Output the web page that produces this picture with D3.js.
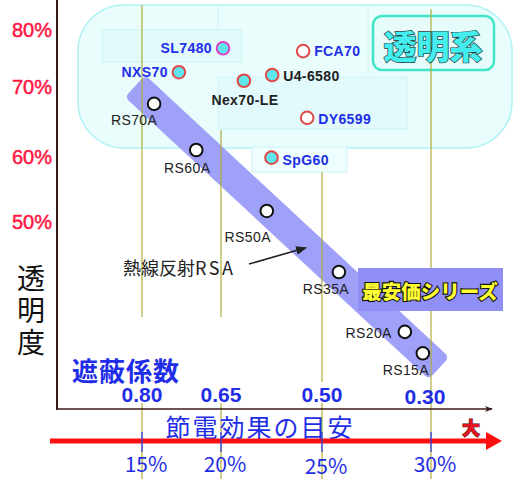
<!DOCTYPE html>
<html><head><meta charset="utf-8">
<script src="https://cdn.jsdelivr.net/npm/d3@7"></script>
<style>body{margin:0;background:#fff}svg{display:block}</style>
</head><body><svg id="c" width="513" height="479"></svg>
<script>
// ---- data ----
const yTicks = [80, 70, 60, 50];
const yTickLabels = ["80%", "70%", "60%", "50%"];
const scTicks = [0.80, 0.65, 0.50, 0.30];
const scTickLabels = ["0.80", "0.65", "0.50", "0.30"];
const savingLabels = ["15%", "20%", "25%", "30%"];

const clearNames = ["SL7480", "NXS70", "Nex70-LE", "U4-6580", "FCA70", "DY6599", "SpG60"];
const clearSC = [0.647, 0.73, 0.616, 0.574, 0.528, 0.522, 0.575];
const clearVT = [76.8, 72.6, 71.1, 72.1, 76.3, 65.6, 59.9];

const rsNames = ["RS70A", "RS60A", "RS50A", "RS35A", "RS20A", "RS15A"];
const rsSC = [0.777, 0.697, 0.582, 0.469, 0.348, 0.315];
const rsVT = [67.6, 61.0, 51.7, 42.3, 33.1, 29.8];

// ---- layout / style ----
const FONT_L = "'Liberation Sans', Arial, sans-serif";
const FONT_J = "'Noto Sans CJK JP', sans-serif";
const BLUE = "#1f2ee6", RED = "#ff1744", CYAN = "#5fe6ea", OLIVE = "#b0ae3a";

const markStyle = {
  "SL7480":   {fill: CYAN, stroke: "#e040c8", color: BLUE, bold: true, dx: -11, dy: 0, anchor: "end"},
  "NXS70":    {fill: CYAN, stroke: "#e04848", color: BLUE, bold: true, dx: -11, dy: 0, anchor: "end"},
  "Nex70-LE": {fill: CYAN, stroke: "#e04848", color: "#222", bold: true, dx: 1, dy: 19, anchor: "middle"},
  "U4-6580":  {fill: CYAN, stroke: "#e04848", color: "#222", bold: true, dx: 11, dy: 1, anchor: "start"},
  "FCA70":    {fill: "#fff", stroke: "#e04848", color: BLUE, bold: true, dx: 11, dy: 0, anchor: "start"},
  "DY6599":   {fill: "#fff", stroke: "#e04848", color: BLUE, bold: true, dx: 11, dy: 1, anchor: "start"},
  "SpG60":    {fill: CYAN, stroke: "#e04848", color: BLUE, bold: true, dx: 11, dy: 2, anchor: "start"},
  "RS70A":    {fill: "#fff", stroke: "#111", color: "#222", bold: false, dx: -20, dy: 16, anchor: "middle"},
  "RS60A":    {fill: "#fff", stroke: "#111", color: "#222", bold: false, dx: -9, dy: 18, anchor: "middle"},
  "RS50A":    {fill: "#fff", stroke: "#111", color: "#222", bold: false, dx: -19, dy: 26, anchor: "middle"},
  "RS35A":    {fill: "#fff", stroke: "#111", color: "#222", bold: false, dx: -13, dy: 17, anchor: "middle"},
  "RS20A":    {fill: "#fff", stroke: "#111", color: "#222", bold: false, dx: -13, dy: 1, anchor: "end"},
  "RS15A":    {fill: "#fff", stroke: "#111", color: "#222", bold: false, dx: -17, dy: 17, anchor: "middle"}
};
const gridSegments = [[5, 317, 403, 479], [130, 317, 403, 479], [172, 382, 403, 479], [9, 479, 479, 479]];

const x = d3.scaleLinear().domain(scTicks).range([142, 221, 322, 431]);
const y = d3.scaleLinear().domain(yTicks).range([30, 87, 157, 222]);

const svg = d3.select("#c");

// arrow markers
const defs = svg.append("defs");
defs.append("marker").attr("id", "ah").attr("viewBox", "0 0 10 10").attr("refX", 8).attr("refY", 5)
  .attr("markerWidth", 7).attr("markerHeight", 7).attr("orient", "auto")
  .append("path").attr("d", "M0,1 L10,5 L0,9 Z").attr("fill", "#222");
defs.append("marker").attr("id", "ax").attr("viewBox", "0 0 10 10").attr("refX", 9).attr("refY", 5)
  .attr("markerWidth", 5).attr("markerHeight", 5).attr("orient", "auto")
  .append("path").attr("d", "M0,1 L10,5 L0,9 L3,5 Z").attr("fill", "#3a1a1a");

// transparent-series region
svg.append("rect").attr("x", 78).attr("y", 5).attr("width", 434).attr("height", 143).attr("rx", 46)
  .attr("fill", "#e9fdfd").attr("stroke", "#aef2f4").attr("stroke-width", 1.5);
const faint = svg.append("g").attr("fill", "#e2fafb").attr("stroke", "#cdf4f6").attr("stroke-width", 1);
faint.append("rect").attr("x", 102).attr("y", 30).attr("width", 139).attr("height", 32);
faint.append("rect").attr("x", 218).attr("y", 77).attr("width", 189).attr("height", 52);
faint.append("rect").attr("x", 252).attr("y", 147).attr("width", 95).attr("height", 25).attr("fill", "#eefdfd");
faint.append("line").attr("x1", 368).attr("x2", 368).attr("y1", 6).attr("y2", 76);
faint.append("line").attr("x1", 218).attr("x2", 218).attr("y1", 6).attr("y2", 30);

// label box 透明系
svg.append("rect").attr("x", 373).attr("y", 16).attr("width", 121).attr("height", 54).attr("rx", 9)
  .attr("fill", "#e6fcfb").attr("stroke", "#3ee6c8").attr("stroke-width", 2.5);

// band (cheapest series)
const p1 = [x(rsSC[0]), y(rsVT[0])], p2 = [x(rsSC[rsSC.length - 1]), y(rsVT[rsVT.length - 1])];
const ang = Math.atan2(p2[1] - p1[1], p2[0] - p1[0]);
const len = Math.hypot(p2[0] - p1[0], p2[1] - p1[1]);
svg.append("rect").attr("x", -26).attr("y", -15).attr("width", len + 48).attr("height", 30).attr("rx", 5)
  .attr("fill", "#9fa0f8")
  .attr("transform", `translate(${p1[0]},${p1[1]}) rotate(${ang * 180 / Math.PI})`);

// vertical guide lines
const grid = svg.append("g").attr("stroke", OLIVE).attr("stroke-width", 1.2);
scTicks.forEach((t, i) => {
  const s = gridSegments[i];
  grid.append("line").attr("x1", x(t)).attr("x2", x(t)).attr("y1", s[0]).attr("y2", s[1]);
  if (s[3] > s[2]) grid.append("line").attr("x1", x(t)).attr("x2", x(t)).attr("y1", s[2]).attr("y2", s[3]);
});

svg.append("text").attr("x", 433).attr("y", 45).attr("text-anchor", "middle").attr("dominant-baseline", "central")
  .attr("font-family", FONT_J).attr("font-weight", 900).attr("font-size", 33)
  .attr("fill", "#45eeee").attr("stroke", "#1e3b3b").attr("stroke-width", 1.4).attr("paint-order", "stroke")
  .text("透明系");

// 最安価シリーズ box
svg.append("rect").attr("x", 358).attr("y", 268).attr("width", 145).attr("height", 43).attr("fill", "#8f8ff5");
svg.append("text").attr("x", 430).attr("y", 290).attr("text-anchor", "middle").attr("dominant-baseline", "central")
  .attr("font-family", FONT_J).attr("font-weight", 900).attr("font-size", 19.5)
  .attr("fill", "#ffff33").attr("stroke", "#111").attr("stroke-width", 2.2).attr("paint-order", "stroke")
  .text("最安価シリーズ");

// axes
svg.append("line").attr("x1", 57).attr("x2", 57).attr("y1", 0).attr("y2", 410)
  .attr("stroke", "#3a1a1a").attr("stroke-width", 2);
svg.append("line").attr("x1", 56).attr("x2", 492).attr("y1", 409).attr("y2", 409)
  .attr("stroke", "#3a1a1a").attr("stroke-width", 1.6).attr("marker-end", "url(#ax)");

// y tick labels
svg.append("g").selectAll("text").data(yTicks).join("text")
  .attr("x", 52).attr("y", d => y(d)).attr("text-anchor", "end").attr("dominant-baseline", "central")
  .attr("font-family", FONT_L).attr("font-size", 20).attr("fill", RED)
  .attr("stroke", RED).attr("stroke-width", 0.5)
  .text((d, i) => yTickLabels[i]);

// y axis title
svg.append("g").selectAll("text").data(["透", "明", "度"]).join("text")
  .attr("x", 31).attr("y", (d, i) => 277 + i * 32).attr("text-anchor", "middle").attr("dominant-baseline", "central")
  .attr("font-family", FONT_J).attr("font-size", 28).attr("fill", "#111").text(d => d);

// shading coefficient title and ticks
svg.append("text").attr("x", 72).attr("y", 369).attr("dominant-baseline", "central")
  .attr("font-family", FONT_J).attr("font-weight", 700).attr("font-size", 26).attr("letter-spacing", 1)
  .attr("fill", BLUE)
  .text("遮蔽係数");
svg.append("g").selectAll("text").data(scTicks).join("text")
  .attr("x", (d, i) => x(d) - (i === 3 ? 6 : 0)).attr("y", (d, i) => i === 3 ? 396 : 394)
  .attr("text-anchor", "middle").attr("dominant-baseline", "central")
  .attr("font-family", FONT_L).attr("font-weight", 700).attr("font-size", 21).attr("fill", BLUE)
  .text((d, i) => scTickLabels[i]);

// power saving arrow
svg.append("text").attr("x", 260).attr("y", 426).attr("text-anchor", "middle").attr("dominant-baseline", "central")
  .attr("font-family", FONT_J).attr("font-size", 25).attr("letter-spacing", 2).attr("fill", BLUE)
  .text("節電効果の目安");
svg.append("line").attr("x1", 50).attr("x2", 488).attr("y1", 441).attr("y2", 441)
  .attr("stroke", "#ff1010").attr("stroke-width", 5);
svg.append("path").attr("d", "M486,432 L502,441 L486,450 Z").attr("fill", "#ff1010");
svg.append("text").attr("x", 471).attr("y", 427).attr("text-anchor", "middle").attr("dominant-baseline", "central")
  .attr("font-family", FONT_J).attr("font-weight", 900).attr("font-size", 18)
  .attr("fill", "#e8141e").attr("stroke", "#4a0a0a").attr("stroke-width", 1).attr("paint-order", "stroke")
  .text("大");
svg.append("g").selectAll("line").data(scTicks).join("line")
  .attr("x1", d => x(d)).attr("x2", d => x(d)).attr("y1", 432).attr("y2", 452)
  .attr("stroke", "#3040e8").attr("stroke-width", 1.3);
svg.append("g").selectAll("text").data(scTicks).join("text")
  .attr("x", d => x(d) + 4).attr("y", (d, i) => i === 2 ? 465 : 463)
  .attr("text-anchor", "middle").attr("dominant-baseline", "central")
  .attr("font-family", FONT_J).attr("font-size", 21).attr("fill", BLUE)
  .text((d, i) => savingLabels[i]);

// annotation 熱線反射RSA
const ann = svg.append("text").attr("x", 123).attr("y", 267).attr("dominant-baseline", "central")
  .attr("font-family", FONT_J).attr("font-size", 18).attr("fill", "#222");
ann.append("tspan").text("熱線反射");
ann.append("tspan").attr("letter-spacing", 2.5).text("RSA");
svg.append("line").attr("x1", 249).attr("y1", 264).attr("x2", 305).attr("y2", 248)
  .attr("stroke", "#222").attr("stroke-width", 1.6).attr("marker-end", "url(#ah)");

// points
const pts = clearNames.map((n, i) => ({name: n, sc: clearSC[i], vt: clearVT[i]}))
  .concat(rsNames.map((n, i) => ({name: n, sc: rsSC[i], vt: rsVT[i]})));
svg.append("g").selectAll("circle").data(pts).join("circle")
  .attr("cx", d => x(d.sc)).attr("cy", d => y(d.vt)).attr("r", 6.3)
  .attr("fill", d => markStyle[d.name].fill).attr("stroke", d => markStyle[d.name].stroke).attr("stroke-width", 2);
svg.append("g").selectAll("text").data(pts).join("text")
  .attr("x", d => x(d.sc) + markStyle[d.name].dx).attr("y", d => y(d.vt) + markStyle[d.name].dy)
  .attr("text-anchor", d => markStyle[d.name].anchor).attr("dominant-baseline", "central")
  .attr("font-family", FONT_L).attr("font-size", 14).attr("letter-spacing", 0.4)
  .attr("font-weight", d => markStyle[d.name].bold ? 700 : 400)
  .attr("fill", d => markStyle[d.name].color)
  .text(d => d.name);
</script></body></html>
